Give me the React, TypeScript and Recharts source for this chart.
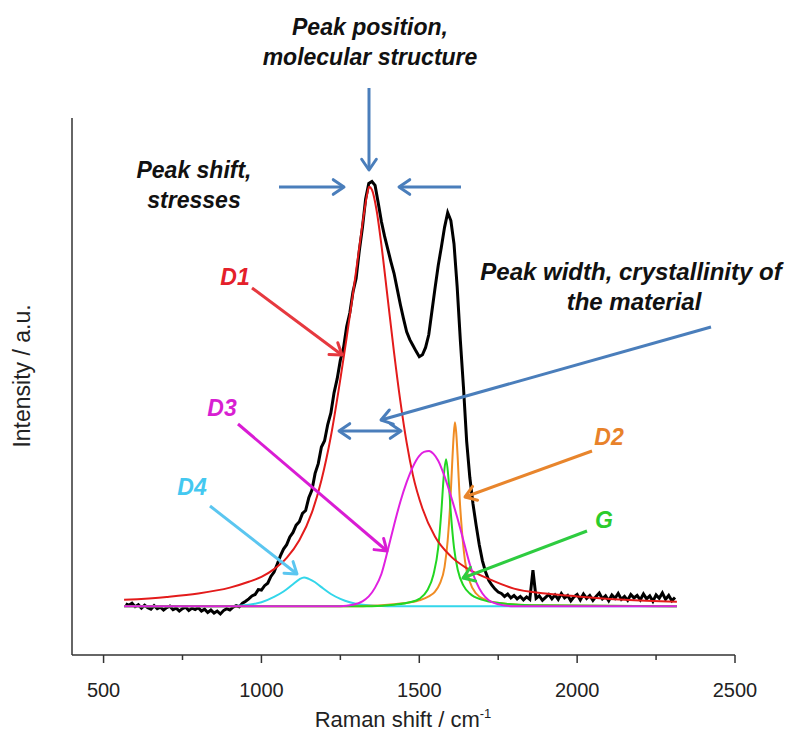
import React from "react";
import { LineChart, Line, XAxis, YAxis } from "recharts";

// measured spectrum, 570..2310 cm-1 every 10 cm-1
const SHIFT_START = 570;
const SHIFT_STEP = 10;
const measured = [
  0.5, 0.2, 0.6, -0.1, 0.3, -0.4, 0.2, -0.3, -0.6, 0.1,
  -0.5, -0.2, -0.8, -0.3, 0.0, -0.7, -0.4, -1.0, -0.5, -0.2,
  -0.9, -0.4, -0.7, -0.3, -1.0, -0.6, -1.3, -0.8, -1.4, -1.0,
  -1.6, -0.9, -0.5, -0.8, -0.2, 0.1, -0.1, 0.6, 1.0, 1.5,
  2.1, 2.4, 3.4, 3.3, 4.2, 4.7, 6.1, 7.0, 8.6, 10.3,
  11.7, 12.6, 14.2, 15.1, 16.6, 17.3, 19.0, 19.6, 22.2, 23.8,
  27.2, 29.2, 32.6, 33.9, 37.2, 39.6, 43.7, 46.6, 50.4, 52.9,
  57.3, 60.1, 64.4, 67.2, 72.8, 77.6, 83.4, 86.6, 87.0, 86.2,
  82.6, 78.8, 75.8, 73.2, 70.6, 68.2, 65.0, 61.8, 58.9, 56.2,
  54.6, 53.4, 52.2, 51.1, 51.5, 53.0, 55.6, 60.4, 65.2, 69.8,
  73.6, 77.6, 80.6, 79.0, 74.2, 65.4, 54.5, 44.8, 33.8, 26.4,
  21.0, 16.6, 12.6, 9.3, 7.0, 5.3, 4.3, 3.5, 2.9, 2.6,
  2.0, 2.5, 1.7, 2.2, 1.5, 2.0, 1.3, 1.9, 1.4, 7.4,
  1.6, 2.1, 1.2, 1.8, 2.4, 1.5, 2.3, 1.4, 2.6, 1.7,
  2.2, 1.1, 1.9, 2.4, 1.3, 2.5, 1.6, 2.2, 1.2, 2.0,
  2.7, 1.5, 2.1, 1.1, 2.3, 1.6, 2.6, 1.4, 2.0, 1.2,
  2.4, 1.7, 2.2, 1.3, 2.5, 1.5, 2.1, 1.0, 2.3, 1.6,
  2.7, 1.4, 2.2, 1.1, 1.8,
];

// fitted bands
const d1Shift = [565, 700, 800, 900, 960, 1000, 1040, 1080, 1120, 1160, 1190, 1220, 1250, 1270, 1290, 1310, 1325, 1335, 1341, 1350, 1365, 1380, 1400, 1420, 1440, 1460, 1480, 1510, 1550, 1600, 1650, 1720, 1800, 1900, 2000, 2150, 2316];
const d1Value = [1.3, 1.9, 2.6, 3.8, 5.0, 6.0, 7.6, 9.9, 13.5, 19.2, 25.8, 34.8, 46.5, 55.0, 64.0, 73.5, 80.5, 84.4, 85.9, 85.3, 81.0, 74.0, 63.0, 52.0, 42.0, 33.5, 26.8, 20.0, 14.2, 10.2, 7.8, 5.6, 3.6, 2.6, 2.0, 1.3, 0.9];

const d3Shift = [565, 1250, 1290, 1320, 1340, 1360, 1380, 1400, 1420, 1440, 1460, 1480, 1500, 1515, 1531, 1545, 1560, 1580, 1600, 1620, 1640, 1660, 1680, 1700, 1720, 1750, 1800, 2316];
const d3Value = [0, 0, 0.3, 1.0, 2.0, 3.8, 6.6, 11.4, 16.6, 21.4, 25.4, 28.6, 30.8, 31.6, 31.8, 31.2, 29.8, 26.6, 22.6, 18.2, 13.4, 8.6, 5.0, 2.6, 1.2, 0.4, 0, 0];

const d2Shift = [565, 1300, 1400, 1450, 1500, 1530, 1550, 1565, 1580, 1590, 1598, 1604, 1609, 1613, 1617, 1622, 1628, 1635, 1645, 1660, 1680, 1710, 1760, 1850, 2316];
const d2Value = [0, 0, 0.3, 0.6, 1.2, 2.0, 3.0, 4.6, 8.0, 13.5, 21.0, 29.0, 35.0, 37.7, 35.5, 30.0, 22.0, 15.5, 9.2, 5.0, 2.6, 1.3, 0.6, 0.2, 0];

const gShift = [565, 1350, 1420, 1470, 1500, 1525, 1545, 1560, 1570, 1578, 1585, 1592, 1600, 1610, 1622, 1640, 1660, 1700, 1760, 1850, 2316];
const gValue = [0, 0, 0.3, 0.8, 1.5, 3.2, 6.5, 12.0, 19.5, 27.0, 30.1, 26.5, 19.0, 12.0, 7.4, 4.2, 2.6, 1.3, 0.6, 0.2, 0];

const d4Shift = [565, 900, 960, 1000, 1040, 1070, 1100, 1120, 1135, 1150, 1170, 1190, 1220, 1250, 1280, 1320, 1400, 2316];
const d4Value = [0, 0, 0.3, 0.8, 1.9, 3.0, 4.5, 5.5, 5.9, 5.6, 4.9, 3.9, 2.5, 1.5, 0.8, 0.3, 0, 0];

const shiftTicks = [500, 750, 1000, 1250, 1500, 1750, 2000, 2250, 2500];

const toPoints = (xs: number[], ys: number[]) => xs.map((shift, i) => ({ shift, value: ys[i] }));

const spectrum = measured.map((value, i) => ({ shift: SHIFT_START + i * SHIFT_STEP, value }));
const d1 = toPoints(d1Shift, d1Value);
const d3 = toPoints(d3Shift, d3Value);
const d2 = toPoints(d2Shift, d2Value);
const g = toPoints(gShift, gValue);
const d4 = toPoints(d4Shift, d4Value);

const AXIS = "#333";
const FONT = "'Liberation Sans', Arial, sans-serif";
const BLUE = "#4a7ebb";

const ShiftTick = (props: any) => {
  const { x, y, payload } = props;
  const major = payload.value % 500 === 0;
  return (
    <g>
      <line x1={x} x2={x} y1={y} y2={y + (major ? 8 : 5)} stroke={AXIS} strokeWidth={1.5} />
      {major && (
        <text x={x} y={y + 42} textAnchor="middle" fontFamily={FONT} fontSize={20} fill="#222">
          {payload.value}
        </text>
      )}
    </g>
  );
};

function Arrow({ x1, y1, x2, y2, color, both = false, w = 3 }: any) {
  const head = (tx: number, ty: number, fx: number, fy: number) => {
    const a = Math.atan2(ty - fy, tx - fx);
    const L = 13;
    const s = 0.6;
    const p1 = `${tx - L * Math.cos(a - s)},${ty - L * Math.sin(a - s)}`;
    const p2 = `${tx - L * Math.cos(a + s)},${ty - L * Math.sin(a + s)}`;
    return <polyline points={`${p1} ${tx},${ty} ${p2}`} fill="none" stroke={color} strokeWidth={w} strokeLinecap="round" strokeLinejoin="round" />;
  };
  return (
    <g>
      <line x1={x1} y1={y1} x2={x2} y2={y2} stroke={color} strokeWidth={w} />
      {head(x2, y2, x1, y1)}
      {both && head(x1, y1, x2, y2)}
    </g>
  );
}

const Note = ({ x, y, children, color = "#111", size = 23 }: any) => (
  <text x={x} y={y} textAnchor="middle" fontFamily={FONT} fontSize={size} fontWeight="bold" fontStyle="italic" fill={color}>
    {children}
  </text>
);

export default function App() {
  return (
    <div style={{ position: "absolute", left: 0, top: 0, width: 802, height: 733, background: "#fff" }}>
      <LineChart width={802} height={733} margin={{ top: 118, right: 67, bottom: 0, left: 20 }}>
        <XAxis
          type="number"
          dataKey="shift"
          domain={[400, 2500]}
          ticks={shiftTicks}
          allowDataOverflow
          height={78}
          tickSize={0}
          tickMargin={0}
          tickLine={false}
          axisLine={{ stroke: AXIS, strokeWidth: 1.5 }}
          tick={<ShiftTick />}
        />
        <YAxis
          type="number"
          dataKey="value"
          domain={[-10, 100]}
          allowDataOverflow
          width={52}
          tick={false}
          tickLine={false}
          axisLine={{ stroke: AXIS, strokeWidth: 1.5 }}
        />
        <Line data={spectrum} dataKey="value" stroke="#000" strokeWidth={3} dot={false} type="linear" isAnimationActive={false} />
        <Line data={d4} dataKey="value" stroke="#33d6ea" strokeWidth={2} dot={false} type="monotone" isAnimationActive={false} />
        <Line data={d2} dataKey="value" stroke="#f08c24" strokeWidth={2} dot={false} type="monotone" isAnimationActive={false} />
        <Line data={g} dataKey="value" stroke="#22d622" strokeWidth={2} dot={false} type="monotone" isAnimationActive={false} />
        <Line data={d1} dataKey="value" stroke="#e31b1b" strokeWidth={2} dot={false} type="monotone" isAnimationActive={false} />
        <Line data={d3} dataKey="value" stroke="#e020e0" strokeWidth={2} dot={false} type="monotone" isAnimationActive={false} />
      </LineChart>
      <svg width={802} height={733} style={{ position: "absolute", left: 0, top: 0, pointerEvents: "none" }}>
        <text x={403} y={727} textAnchor="middle" fontFamily={FONT} fontSize={22} fill="#222">
          Raman shift / cm<tspan dy={-9} fontSize={13}>-1</tspan>
        </text>
        <text x={22} y={376} textAnchor="middle" dominantBaseline="central" fontFamily={FONT} fontSize={23} fill="#222" transform="rotate(-90 22 376)">
          Intensity / a.u.
        </text>

        <Note x={370} y={35}>Peak position,</Note>
        <Note x={370} y={65}>molecular structure</Note>
        <Note x={194} y={178}>Peak shift,</Note>
        <Note x={194} y={208}>stresses</Note>
        <Note x={631} y={280} size={24}>Peak width, crystallinity of</Note>
        <Note x={634} y={310} size={24}>the material</Note>

        <Arrow x1={369} y1={88} x2={369} y2={170} color={BLUE} />
        <Arrow x1={279} y1={187} x2={344} y2={187} color={BLUE} />
        <Arrow x1={461} y1={187} x2={399} y2={187} color={BLUE} />
        <Arrow x1={711} y1={327} x2={381} y2={420} color={BLUE} />
        <Arrow x1={339} y1={431} x2={401} y2={431} color={BLUE} both />

        <Note x={235} y={285} color="#e4202a">D1</Note>
        <Arrow x1={252} y1={288} x2={342} y2={355} color="#e6393f" />
        <Note x={222} y={416} color="#d81fd2">D3</Note>
        <Arrow x1={238} y1={424} x2={387} y2={551} color="#d91cd4" />
        <Note x={192} y={495} color="#44c8f0">D4</Note>
        <Arrow x1={210} y1={506} x2={297} y2={574} color="#5bc6f0" />
        <Note x={609} y={445} color="#e8822a">D2</Note>
        <Arrow x1={592} y1={451} x2={465} y2={497} color="#e8852c" />
        <Note x={604} y={528} color="#2ccc2c">G</Note>
        <Arrow x1={587} y1={531} x2={463} y2={578} color="#2ecc40" />
      </svg>
    </div>
  );
}
